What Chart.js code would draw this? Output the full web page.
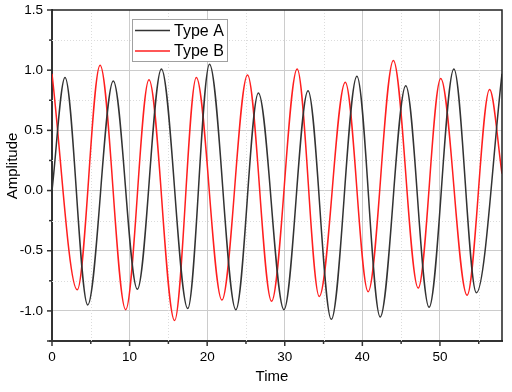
<!DOCTYPE html>
<html>
<head>
<meta charset="utf-8">
<script src="https://cdn.jsdelivr.net/npm/chart.js@4/dist/chart.umd.min.js"></script>
<style>
  html, body { margin: 0; padding: 0; background: #fff; }
  #wrap { width: 512px; height: 392px; position: relative; }
</style>
</head>
<body>
<div id="wrap"><canvas id="c" width="512" height="392"></canvas></div>
<script>
// ---- Data (extrema and edge values) ----
const typeATime = [0, 1.68, 4.6, 7.9, 11.0, 14.1, 17.5, 20.3, 23.7, 26.6, 29.9, 33.0, 36.0, 39.3, 42.3, 45.6, 48.6, 51.8, 54.7, 58];
const typeAAmp  = [0, 0.94, -0.95, 0.91, -0.82, 1.01, -0.98, 1.05, -0.99, 0.81, -0.99, 0.83, -1.07, 0.95, -1.05, 0.87, -0.97, 1.01, -0.85, 0.97];
const typeBTime = [0, 3.26, 6.2, 9.5, 12.5, 15.8, 18.6, 21.9, 25.2, 28.3, 31.6, 34.45, 37.8, 40.75, 44.0, 47.2, 50.1, 53.5, 56.4, 58];
const typeBAmp  = [0.97, -0.825, 1.04, -0.99, 0.92, -1.08, 0.94, -0.91, 0.96, -0.92, 1.01, -0.88, 0.90, -0.84, 1.08, -0.81, 0.93, -0.87, 0.84, 0.14];
const seriesNames = ['Type A', 'Type B'];
const xTitle = 'Time';
const yTitle = 'Amplitude';
const xTicks = [0, 10, 20, 30, 40, 50];
const yTicks = [-1.0, -0.5, 0.0, 0.5, 1.0, 1.5];
const xMinor = [5, 15, 25, 35, 45, 55];
const yMinor = [-1.25, -0.75, -0.25, 0.25, 0.75, 1.25];
const xRange = [0, 58];
const yRange = [-1.25, 1.5];

const colA = '#333333';
const colB = '#ff1f1f';
const FONT = '"Liberation Sans", Arial, sans-serif';

function pts(t, v) { return t.map((x, i) => ({ x: x, y: v[i] })); }

const overlay = {
  id: 'overlay',
  beforeDatasetsDraw(chart) {
    const { ctx, chartArea: a, scales: { x, y } } = chart;
    ctx.save();
    ctx.strokeStyle = '#dcdcdc';
    ctx.lineWidth = 1;
    ctx.setLineDash([1, 2]);
    xMinor.forEach(v => {
      const px = Math.round(x.getPixelForValue(v)) + 0.5;
      ctx.beginPath(); ctx.moveTo(px, a.top); ctx.lineTo(px, a.bottom); ctx.stroke();
    });
    yMinor.forEach(v => {
      if (v <= yRange[0]) return;
      const py = Math.round(y.getPixelForValue(v)) + 0.5;
      ctx.beginPath(); ctx.moveTo(a.left, py); ctx.lineTo(a.right, py); ctx.stroke();
    });
    ctx.restore();
  },
  afterDraw(chart) {
    const { ctx, chartArea: a, scales: { x, y } } = chart;
    ctx.save();
    // top & right frame
    ctx.strokeStyle = '#222';
    ctx.lineWidth = 1.5;
    ctx.beginPath();
    ctx.moveTo(a.left, a.top); ctx.lineTo(a.right, a.top); ctx.lineTo(a.right, a.bottom);
    ctx.stroke();
    // ticks
    ctx.strokeStyle = '#333';
    ctx.lineWidth = 1.5;
    xTicks.forEach(v => {
      const px = x.getPixelForValue(v);
      ctx.beginPath(); ctx.moveTo(px, a.bottom); ctx.lineTo(px, a.bottom + 5); ctx.stroke();
    });
    xMinor.forEach(v => {
      const px = x.getPixelForValue(v);
      ctx.beginPath(); ctx.moveTo(px, a.bottom); ctx.lineTo(px, a.bottom + 3); ctx.stroke();
    });
    yTicks.concat([-1.25]).forEach(v => {
      const py = y.getPixelForValue(v);
      ctx.beginPath(); ctx.moveTo(a.left, py); ctx.lineTo(a.left - 5, py); ctx.stroke();
    });
    yMinor.forEach(v => {
      const py = y.getPixelForValue(v);
      ctx.beginPath(); ctx.moveTo(a.left, py); ctx.lineTo(a.left - 3, py); ctx.stroke();
    });
    // axis titles
    ctx.fillStyle = '#000';
    ctx.font = '15px ' + FONT;
    ctx.textAlign = 'center';
    ctx.textBaseline = 'alphabetic';
    ctx.fillText(xTitle, 272, 381);
    ctx.save();
    ctx.translate(17, 166);
    ctx.rotate(-Math.PI / 2);
    ctx.fillText(yTitle, 0, 0);
    ctx.restore();
    // legend box
    const bx = 132, by = 19, bw = 95, bh = 42;
    ctx.fillStyle = '#fff';
    ctx.fillRect(bx, by, bw, bh);
    ctx.strokeStyle = '#a0a0a0';
    ctx.lineWidth = 1;
    ctx.strokeRect(bx + 0.5, by + 0.5, bw, bh);
    const rows = [[colA, 30.5], [colB, 51]];
    ctx.font = '16px ' + FONT;
    ctx.textBaseline = 'middle';
    ctx.textAlign = 'left';
    rows.forEach((r, i) => {
      ctx.strokeStyle = r[0];
      ctx.lineWidth = 1.5;
      ctx.beginPath(); ctx.moveTo(135, r[1]); ctx.lineTo(170, r[1]); ctx.stroke();
      ctx.fillStyle = '#000';
      ctx.fillText(seriesNames[i], 174, r[1] + 1);
    });
    ctx.restore();
  }
};

new Chart(document.getElementById('c'), {
  type: 'line',
  data: {
    datasets: [
      { label: seriesNames[0], data: pts(typeATime, typeAAmp), borderColor: colA, borderWidth: 1.5,
        pointRadius: 0, cubicInterpolationMode: 'monotone', fill: false },
      { label: seriesNames[1], data: pts(typeBTime, typeBAmp), borderColor: colB, borderWidth: 1.5,
        pointRadius: 0, cubicInterpolationMode: 'monotone', fill: false }
    ]
  },
  options: {
    responsive: false,
    animation: false,
    layout: { padding: { left: 0, right: 10, top: 10, bottom: 0 } },
    plugins: { legend: { display: false }, tooltip: { enabled: false } },
    scales: {
      x: {
        type: 'linear', min: xRange[0], max: xRange[1],
        afterBuildTicks: s => { s.ticks = xTicks.map(v => ({ value: v })); },
        afterFit: s => { s.height = 51; s.paddingLeft = 0; s.paddingRight = 0; },
        ticks: { padding: 8, color: '#000', font: { family: FONT, size: 13.5 },
                 callback: v => String(v), maxRotation: 0, autoSkip: false },
        grid: { color: '#cccccc', lineWidth: 1, drawTicks: false },
        border: { color: '#333', width: 2 },
        title: { display: false }
      },
      y: {
        type: 'linear', min: yRange[0], max: yRange[1],
        afterBuildTicks: s => { s.ticks = yTicks.map(v => ({ value: v })); },
        afterFit: s => { s.width = 52; s.paddingTop = 0; s.paddingBottom = 0; },
        ticks: { padding: 9, color: '#000', font: { family: FONT, size: 13.5 },
                 callback: v => Number(v).toFixed(1), autoSkip: false },
        grid: { color: c => (c.tick && c.tick.value === yRange[1]) ? 'rgba(0,0,0,0)' : '#cccccc', lineWidth: 1, drawTicks: false },
        border: { color: '#333', width: 2 },
        title: { display: false }
      }
    }
  },
  plugins: [overlay]
});
</script>
</body>
</html>
